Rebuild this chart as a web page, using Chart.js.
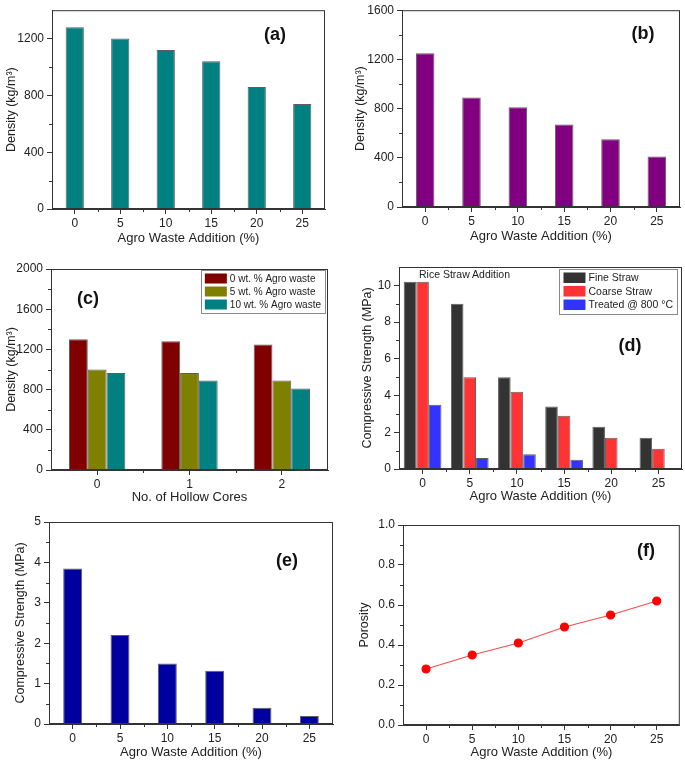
<!DOCTYPE html>
<html>
<head>
<meta charset="utf-8">
<script src="https://cdn.jsdelivr.net/npm/chart.js@4.4.0/dist/chart.umd.min.js"></script>
<style>
body { margin: 0; background: #fff; width: 685px; height: 764px; position: relative; overflow: hidden; font-family: "Liberation Sans", Arial, sans-serif; }
.panel { position: absolute; }
.tag { position: absolute; font-weight: bold; font-size: 18px; color: #111; transform: translate(-50%, -50%); }
.note { position: absolute; font-size: 10.5px; color: #222; }
</style>
</head>
<body>
<div class="panel" style="left:0px;top:0px;width:340px;height:250px"><canvas id="chartA"></canvas></div>
<div class="panel" style="left:349px;top:0px;width:336px;height:248px"><canvas id="chartB"></canvas></div>
<div class="panel" style="left:0px;top:250px;width:340px;height:259px"><canvas id="chartC"></canvas></div>
<div class="panel" style="left:356px;top:250px;width:329px;height:258px"><canvas id="chartD"></canvas></div>
<div class="panel" style="left:9px;top:505px;width:331px;height:259px"><canvas id="chartE"></canvas></div>
<div class="panel" style="left:353px;top:505px;width:332px;height:259px"><canvas id="chartF"></canvas></div>

<div class="tag" style="left:275px;top:34px">(a)</div>
<div class="tag" style="left:643px;top:33px">(b)</div>
<div class="tag" style="left:88px;top:298px">(c)</div>
<div class="tag" style="left:630px;top:345px">(d)</div>
<div class="tag" style="left:287px;top:560px">(e)</div>
<div class="tag" style="left:646px;top:550px">(f)</div>
<div class="note" style="left:419px;top:268px">Rice Straw Addition</div>

<script>
// data
var addition = ['0', '5', '10', '15', '20', '25'];
var densityA = [1280, 1200, 1120, 1040, 860, 740];
var densityB = [1250, 890, 810, 670, 550, 410];

var cores = ['0', '1', '2'];
var density0wt = [1300, 1280, 1250];
var density5wt = [1000, 965, 890];
var density10wt = [965, 890, 810];

var fineStraw = [10.2, 9, 5, 3.4, 2.3, 1.7];
var coarseStraw = [10.2, 5, 4.2, 2.9, 1.7, 1.1];
var treatedStraw = [3.5, 0.6, 0.8, 0.5, null, null];

var strengthE = [3.85, 2.2, 1.5, 1.32, 0.4, 0.2];
var porosity = [0.28, 0.35, 0.41, 0.49, 0.55, 0.62];

Chart.defaults.font.family = '"Liberation Sans", Arial, sans-serif';
Chart.defaults.color = '#222';
Chart.defaults.animation = false;

var axisColor = '#333';

// box around the plot + small minor ticks between the major ones
var framePlugin = {
    id: 'frame',
    afterDraw: function (chart) {
        var ctx = chart.ctx;
        var a = chart.chartArea;
        ctx.save();
        ctx.strokeStyle = axisColor;
        ctx.lineWidth = 1;
        ctx.strokeRect(a.left + 0.5, a.top + 0.5, a.right - a.left - 1, a.bottom - a.top - 1);

        var y = chart.scales.y;
        var step = y.ticks[1].value - y.ticks[0].value;
        ctx.beginPath();
        for (var v = y.min + step / 2; v < y.max - 1e-9; v += step) {
            if (Math.abs((v - y.min) / step - Math.round((v - y.min) / step)) < 1e-6) continue;
            var py = Math.round(y.getPixelForValue(v)) + 0.5;
            ctx.moveTo(a.left, py);
            ctx.lineTo(a.left - 3, py);
        }
        var x = chart.scales.x;
        for (var i = 1; i < x.ticks.length; i++) {
            var px = Math.round((x.getPixelForValue(i - 1) + x.getPixelForValue(i)) / 2) + 0.5;
            ctx.moveTo(px, a.bottom);
            ctx.lineTo(px, a.bottom + 3);
        }
        ctx.stroke();
        ctx.restore();
    }
};

// legend box in the upper right corner of the plot
var boxLegendPlugin = {
    id: 'boxLegend',
    afterDraw: function (chart, args, opts) {
        if (!opts.show) return;
        var ctx = chart.ctx;
        var a = chart.chartArea;
        var sets = chart.data.datasets;
        ctx.save();
        ctx.font = opts.fontSize + 'px "Liberation Sans", Arial, sans-serif';
        var tw = 0;
        sets.forEach(function (d) { tw = Math.max(tw, ctx.measureText(d.label).width); });
        var w = 4 + 22 + 3 + tw + 4;
        var h = sets.length * opts.rowHeight + 4;
        var bx = a.right - opts.right - w;
        var by = a.top + opts.top;
        ctx.fillStyle = '#fff';
        ctx.fillRect(bx, by, w, h);
        ctx.strokeStyle = '#888';
        ctx.lineWidth = 1;
        ctx.strokeRect(Math.round(bx) + 0.5, Math.round(by) + 0.5, Math.round(w), Math.round(h));
        ctx.textBaseline = 'middle';
        sets.forEach(function (d, i) {
            var ry = by + 2 + i * opts.rowHeight;
            ctx.fillStyle = d.backgroundColor;
            ctx.fillRect(bx + 4, ry + 1.5, 22, opts.rowHeight - 3);
            ctx.fillStyle = '#222';
            ctx.fillText(d.label, bx + 29, ry + opts.rowHeight / 2 + 0.5);
        });
        ctx.restore();
    }
};

function makeChart(id, type, labels, datasets, cfg) {
    var ctx = document.getElementById(id).getContext('2d');
    return new Chart(ctx, {
        type: type,
        data: { labels: labels, datasets: datasets },
        plugins: [framePlugin, boxLegendPlugin],
        options: {
            responsive: true,
            maintainAspectRatio: false,
            layout: { padding: { top: cfg.top, right: cfg.right, left: 0, bottom: 0 } },
            plugins: {
                legend: { display: false },
                tooltip: { enabled: false },
                boxLegend: cfg.legend || { show: false }
            },
            scales: {
                x: {
                    offset: true,
                    grid: { drawOnChartArea: false, offset: false, color: axisColor, tickLength: 5 },
                    border: { color: axisColor },
                    ticks: { font: { size: 12 }, padding: 2, maxRotation: 0 },
                    title: { display: true, text: cfg.xTitle, font: { size: 13 }, color: '#222' },
                    afterFit: function (s) { s.height = cfg.xh; }
                },
                y: {
                    min: 0,
                    max: cfg.yMax,
                    grid: { drawOnChartArea: false, color: axisColor, tickLength: 5 },
                    border: { color: axisColor },
                    ticks: {
                        stepSize: cfg.yStep,
                        includeBounds: false,
                        font: { size: 12 },
                        padding: 3,
                        callback: cfg.yFmt || function (v) { return v; }
                    },
                    title: { display: true, text: cfg.yTitle, font: { size: 12.5 }, color: '#222' },
                    afterFit: function (s) { s.width = cfg.yw; }
                }
            }
        }
    });
}

function barSet(label, data, color) {
    return {
        label: label,
        data: data,
        backgroundColor: color,
        borderColor: 'rgba(40,40,40,0.75)',
        borderWidth: 1,
        barPercentage: 1,
        categoryPercentage: 0.4
    };
}

var wasteTitle = 'Agro Waste Addition (%)';
var densityTitle = 'Density (kg/m\u00b3)';
var strengthTitle = 'Compressive Strength (MPa)';

makeChart('chartA', 'bar', addition, [barSet('Density', densityA, '#008080')],
    { top: 5, right: 15, yw: 52, xh: 41, yMax: 1400, yStep: 400, xTitle: wasteTitle, yTitle: densityTitle });

makeChart('chartB', 'bar', addition, [barSet('Density', densityB, '#800080')],
    { top: 7, right: 5, yw: 53, xh: 41, yMax: 1600, yStep: 400, xTitle: wasteTitle, yTitle: densityTitle });

var setsC = [
    barSet('0 wt. % Agro waste', density0wt, '#800000'),
    barSet('5 wt. % Agro waste', density5wt, '#808000'),
    barSet('10 wt. % Agro waste', density10wt, '#008080')
];
setsC.forEach(function (d) { d.categoryPercentage = 0.61; });
makeChart('chartC', 'bar', cores, setsC,
    { top: 19, right: 12, yw: 51, xh: 39, yMax: 2000, yStep: 400, xTitle: 'No. of Hollow Cores', yTitle: densityTitle,
      legend: { show: true, fontSize: 10, rowHeight: 13, right: 3, top: 1 } });

var setsD = [
    barSet('Fine Straw', fineStraw, '#333333'),
    barSet('Coarse Straw', coarseStraw, '#ff3333'),
    barSet('Treated @ 800 \u00b0C', treatedStraw, '#3333ff')
];
setsD.forEach(function (d) { d.categoryPercentage = 0.8; });
makeChart('chartD', 'bar', addition, setsD,
    { top: 17, right: 3, yw: 43, xh: 39, yMax: 11, yStep: 2, xTitle: wasteTitle, yTitle: strengthTitle,
      legend: { show: true, fontSize: 10.5, rowHeight: 13.5, right: 5, top: 2 } });

makeChart('chartE', 'bar', addition, [barSet('Strength', strengthE, '#0000a0')],
    { top: 17, right: 7, yw: 40, xh: 40, yMax: 5, yStep: 1, xTitle: wasteTitle, yTitle: strengthTitle });

makeChart('chartF', 'line', addition, [{
    label: 'Porosity',
    data: porosity,
    borderColor: '#f05050',
    borderWidth: 1.2,
    pointRadius: 4,
    pointBackgroundColor: '#ff0000',
    pointBorderColor: '#ff0000',
    tension: 0
}], { top: 20, right: 2, yw: 50, xh: 39, yMax: 1, yStep: 0.2, xTitle: wasteTitle, yTitle: 'Porosity',
      yFmt: function (v) { return v.toFixed(1); } });
</script>
</body>
</html>
